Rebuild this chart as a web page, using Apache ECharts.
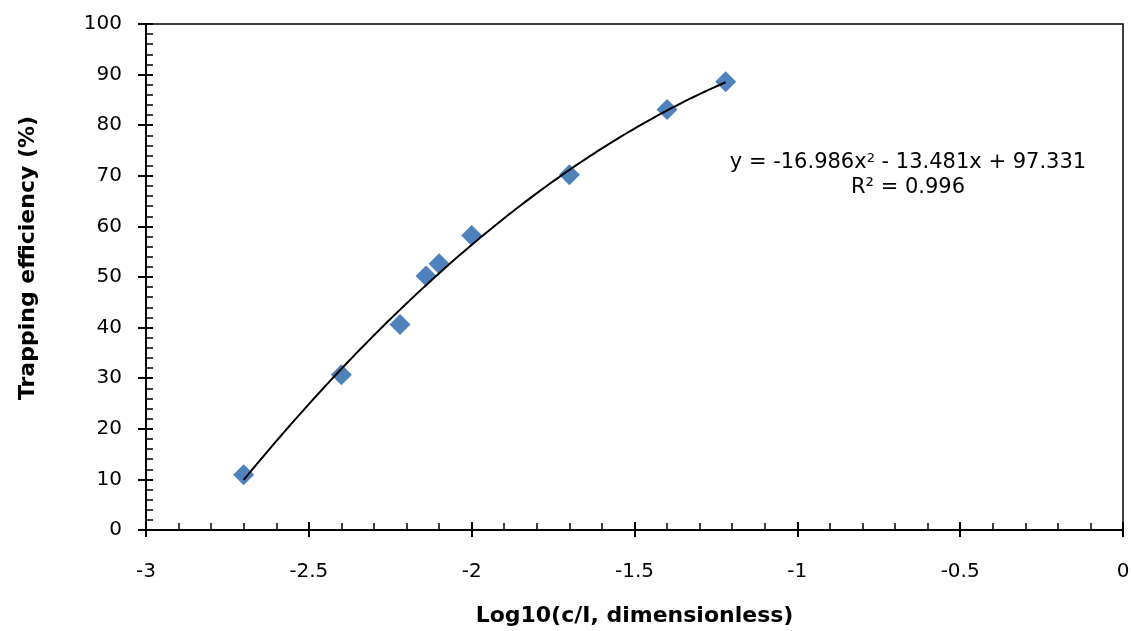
<!DOCTYPE html>
<html>
<head>
<meta charset="utf-8">
<script src="https://cdn.jsdelivr.net/npm/echarts@6/dist/echarts.min.js"></script>
<style>
  html, body { margin: 0; padding: 0; background: #fff; }
  #chart { width: 1131px; height: 631px; }
</style>
</head>
<body>
<div id="chart"></div>
<script>
// Measured trapping efficiency against log10 of concentration ratio
const logRatio = [-2.70, -2.40, -2.22, -2.14, -2.10, -2.00, -1.70, -1.40, -1.22];
const efficiency = [10.9, 30.7, 40.6, 50.2, 52.6, 58.2, 70.2, 83.1, 88.6];

// Quadratic trendline coefficients (a x^2 + b x + c) and fit quality
const trendCoef = [-16.986, -13.481, 97.331];
const trendR2 = 0.996;

// Axis ranges and tick steps
const xRange = [-3, 0];
const xStep = 0.5;
const yRange = [0, 100];
const yStep = 10;

const xTitle = 'Log10(c/I, dimensionless)';
const yTitle = 'Trapping efficiency (%)';

// Sample the trendline across the span of the measurements
const xMin = Math.min(...logRatio), xMax = Math.max(...logRatio);
const trend = [];
const nSteps = 120;
for (let i = 0; i <= nSteps; i++) {
  const x = xMin + (xMax - xMin) * i / nSteps;
  trend.push([x, trendCoef[0] * x * x + trendCoef[1] * x + trendCoef[2]]);
}

const fmt = v => String(+v.toFixed(3));
const eqLine1 = 'y = ' + trendCoef[0].toFixed(3) + 'x{sup|2} - ' + Math.abs(trendCoef[1]).toFixed(3) +
  'x + ' + trendCoef[2].toFixed(3);
const eqLine2 = 'R\u00B2 = ' + trendR2.toFixed(3);

const font = '"DejaVu Sans", Verdana, sans-serif';
const chart = echarts.init(document.getElementById('chart'), null, { renderer: 'canvas' });

const baseX = {
  type: 'value', min: xRange[0], max: xRange[1], interval: xStep,
  splitLine: { show: false }
};
const baseY = {
  type: 'value', min: yRange[0], max: yRange[1], interval: yStep,
  splitLine: { show: false }
};

chart.setOption({
  animation: false,
  backgroundColor: '#ffffff',
  grid: {
    left: 146, top: 24, right: 8, bottom: 101,
    outerBoundsMode: 'none',
    containLabel: false,
    show: true, borderColor: '#000', borderWidth: 1.5, backgroundColor: 'transparent'
  },
  xAxis: [
    Object.assign({}, baseX, {
      position: 'bottom',
      name: xTitle,
      nameLocation: 'middle',
      nameGap: 75,
      nameTextStyle: { fontFamily: font, fontWeight: 'bold', fontSize: 22, color: '#000' },
      axisLine: { show: true, onZero: false, lineStyle: { color: '#000', width: 2 } },
      axisTick: { show: true, inside: false, length: 7, lineStyle: { color: '#000', width: 2 } },
      minorTick: { show: false },
      axisLabel: {
        margin: 32, fontFamily: font, fontSize: 20, color: '#000',
        formatter: v => fmt(v)
      }
    }),
    Object.assign({}, baseX, {
      position: 'bottom',
      axisLine: { show: false, onZero: false },
      axisTick: { show: true, inside: true, length: 8, lineStyle: { color: '#000', width: 2 } },
      minorTick: { show: true, splitNumber: 5, length: 7, lineStyle: { color: '#000', width: 1.5 } },
      axisLabel: { show: false }
    })
  ],
  yAxis: [
    Object.assign({}, baseY, {
      position: 'left',
      name: yTitle,
      nameLocation: 'middle',
      nameGap: 107,
      nameRotate: 90,
      nameTextStyle: {
        fontFamily: font, fontWeight: 'bold', fontSize: 22, color: '#000',
        padding: [0, 0, 0, 38]
      },
      axisLine: { show: true, onZero: false, lineStyle: { color: '#000', width: 2 } },
      axisTick: { show: true, inside: false, length: 8, lineStyle: { color: '#000', width: 2 } },
      minorTick: { show: false },
      axisLabel: { margin: 24, fontFamily: font, fontSize: 20, color: '#000' }
    }),
    Object.assign({}, baseY, {
      position: 'left',
      axisLine: { show: false, onZero: false },
      axisTick: { show: true, inside: true, length: 7, lineStyle: { color: '#000', width: 2 } },
      minorTick: { show: true, splitNumber: 5, length: 7, lineStyle: { color: '#000', width: 1.5 } },
      axisLabel: { show: false }
    })
  ],
  series: [
    {
      name: 'trend',
      type: 'line',
      data: trend,
      showSymbol: false,
      symbol: 'none',
      lineStyle: { color: '#000', width: 2 },
      z: 3
    },
    {
      name: 'measured',
      type: 'scatter',
      data: logRatio.map((x, i) => [x, efficiency[i]]),
      symbol: 'diamond',
      symbolSize: 21,
      itemStyle: { color: '#4F81BD', opacity: 1 },
      z: 2
    }
  ],
  graphic: [
    {
      type: 'text',
      x: 908, y: 152,
      style: {
        text: eqLine1,
        fontFamily: font, fontSize: 21, fill: '#000',
        align: 'center', verticalAlign: 'top',
        rich: { sup: { fontFamily: font, fontSize: 13, verticalAlign: 'top', padding: [0, 0, 9, 0] } }
      }
    },
    {
      type: 'text',
      x: 908, y: 177,
      style: {
        text: eqLine2,
        fontFamily: font, fontSize: 21, fill: '#000',
        align: 'center', verticalAlign: 'top'
      }
    }
  ]
});
</script>
</body>
</html>
